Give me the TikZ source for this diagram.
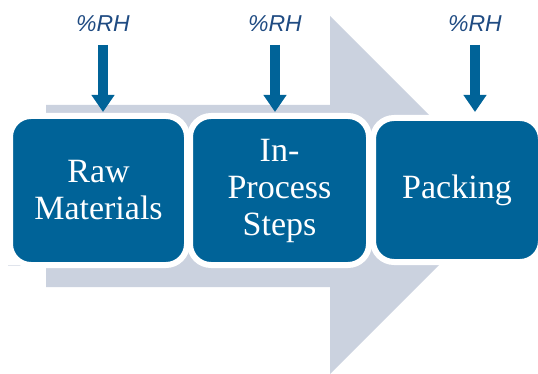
\documentclass[tikz,border=0pt]{standalone}
\usepackage{fontspec}
\setmainfont{Liberation Serif}
\newfontfamily\boxfont{Liberation Serif}
\newfontfamily\labelfont{Liberation Sans}
\usetikzlibrary{arrows.meta}

\definecolor{flowgray}{RGB}{203,210,223}
\definecolor{boxblue}{RGB}{0,99,152}
\definecolor{rhblue}{RGB}{31,75,130}

\begin{document}
\begin{tikzpicture}[
			x=1pt, y=-1pt,
			stepbox/.style={rounded corners=21pt, fill=boxblue, draw=white, line width=6pt,
				text=white, align=center, inner sep=0pt,
				font=\boxfont\fontsize{34}{37}\selectfont},
			rhlabel/.style={text=rhblue, inner sep=1pt, font=\labelfont\itshape\fontsize{23}{26}\selectfont},
			rhhalo/.style={draw=white, line width=14pt, -{Triangle[length=21pt, width=28pt]}},
			rharrow/.style={draw=boxblue, line width=10pt, -{Triangle[length=17pt, width=22pt]}},
		]
		\useasboundingbox (0,0) rectangle (538,374);

		% big flow arrow behind the steps
		\fill[flowgray] (46,105) -- (330,105) -- (330,16) -- (509,195) -- (330,374)
			-- (330,287) -- (46,287) -- cycle;
		\draw[flowgray!60, line width=1pt] (8,265.5) -- (46,265.5);

		\node[stepbox, minimum width=177pt, minimum height=149pt] (raw)  at (98.5, 190.5) {Raw\\Materials};
		\node[stepbox, minimum width=179pt, minimum height=149pt] (proc) at (279.5, 190.5) {In-\\Process\\Steps};
		\node[stepbox, minimum width=168pt, minimum height=144pt] (pack) at (457, 190) {Packing};

		\node[rhlabel] (rh1) at (103, 24) {\%RH};
		\node[rhlabel] (rh2) at (275, 24) {\%RH};
		\node[rhlabel] (rh3) at (475, 24) {\%RH};

		\draw[rhhalo] ([yshift=-19pt]rh1.center) -- ([yshift=2pt]rh1.center |- raw.north);
		\draw[rhhalo] ([yshift=-19pt]rh2.center) -- ([yshift=2pt]rh2.center |- proc.north);
		\draw[rhhalo] ([yshift=-19pt]rh3.center) -- ([yshift=4pt]rh3.center |- pack.north);

		\draw[rharrow] ([yshift=-21pt]rh1.center) -- ([yshift=1pt]rh1.center |- raw.north);
		\draw[rharrow] ([yshift=-21pt]rh2.center) -- ([yshift=1pt]rh2.center |- proc.north);
		\draw[rharrow] ([yshift=-21pt]rh3.center) -- ([yshift=3pt]rh3.center |- pack.north);
	\end{tikzpicture}
\end{document}
